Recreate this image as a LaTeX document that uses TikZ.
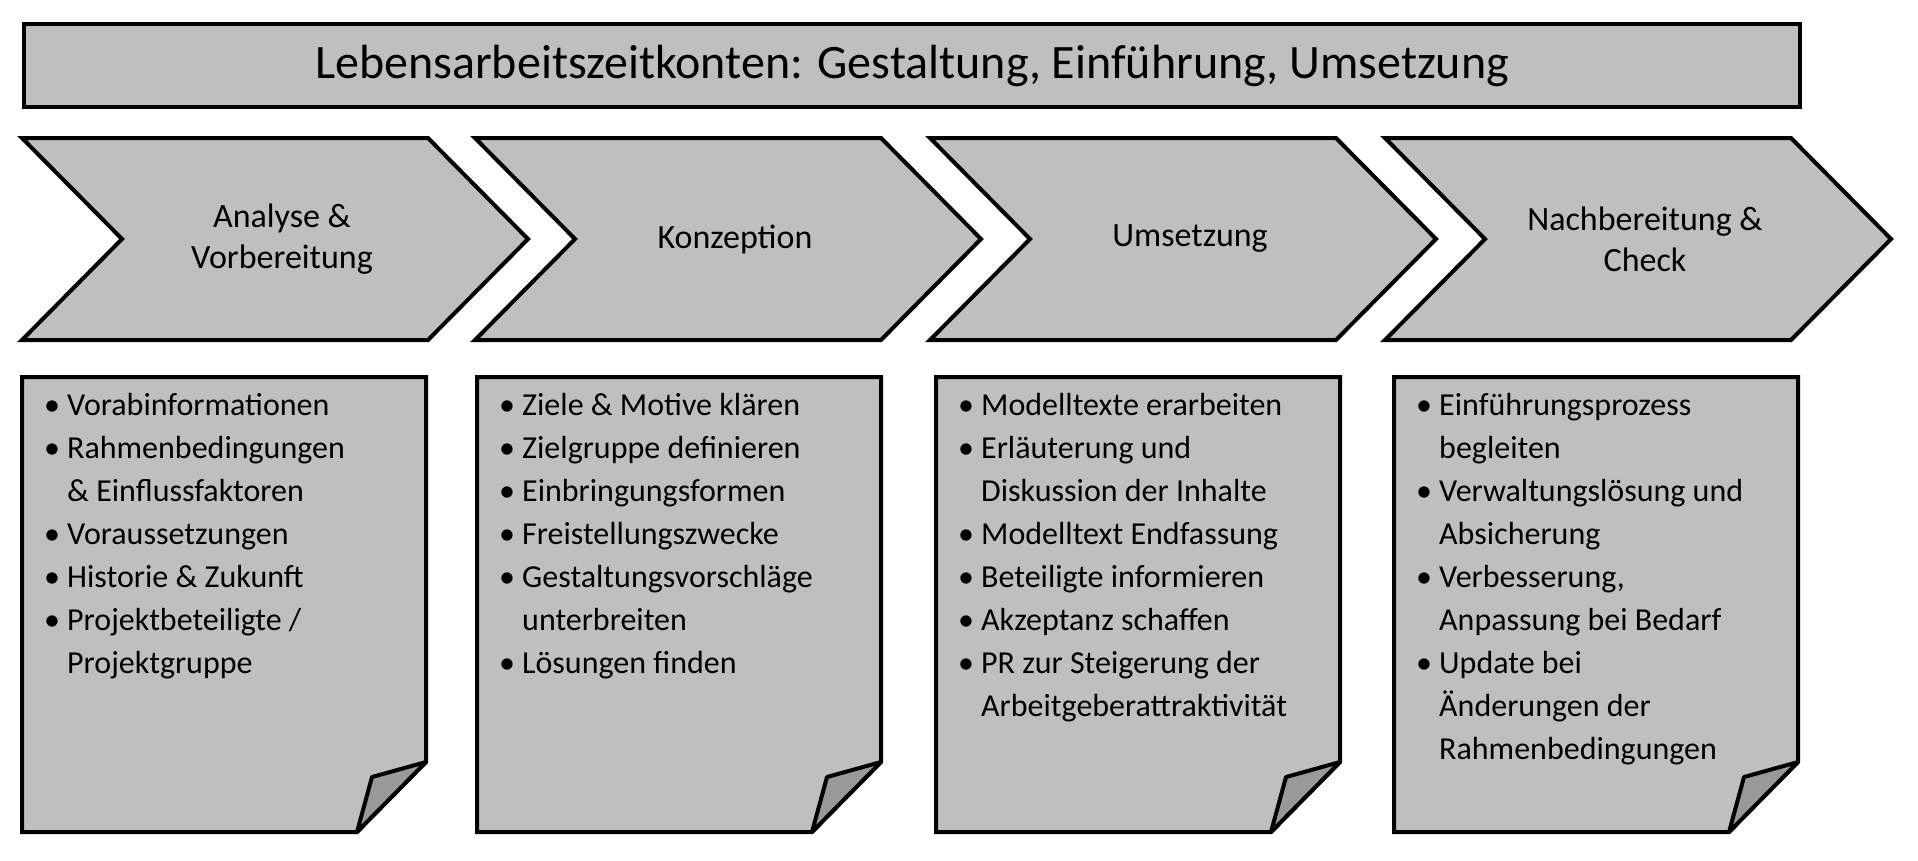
\documentclass[tikz,border=0pt]{standalone}
\usepackage{fontspec}
\setmainfont{Carlito}
\newcommand{\bi}{\makebox[23pt][l]{\textbullet}}
\newcommand{\bc}{\hspace*{23pt}}
\begin{document}
\begin{tikzpicture}[x=1pt,y=-1pt,
  shp/.style={draw=black,line width=4pt,fill=black!25,line join=miter},
  flap/.style={draw=black,line width=4pt,fill=black!40,line join=round},
  lbl/.style={font=\fontsize{34}{41}\selectfont,align=center},
  lst/.style={font=\fontsize{32}{43}\selectfont,align=left,anchor=north west,inner sep=0pt}]
\useasboundingbox (0,0) rectangle (1918,860);
\node[shp,minimum width=1776pt,minimum height=83pt,anchor=north west,inner sep=0pt,font=\fontsize{48}{56}\selectfont] (title) at (22,22) {Lebensarbeitszeitkonten: Gestaltung, Einführung, Umsetzung};
\foreach \i/\s/\t in {1/22/{Analyse \&\\Vorbereitung},2/475/{Konzeption},3/930/{Umsetzung},4/1385/{Nachbereitung \&\\Check}}{
  \draw[shp] (\s,138) -- (\s+406,138) -- (\s+506,239) -- (\s+406,340) -- (\s,340) -- (\s+100,239) -- cycle;
  \node[lbl] (c\i) at (\s+260,239) {\t};
}
\foreach \i/\l in {1/22,2/477,3/936,4/1394}{
  \draw[shp] (\l,377) -- (\l+404,377) -- (\l+404,762) -- (\l+335,832) -- (\l,832) -- cycle;
  \draw[flap] (\l+404,762) -- (\l+350,777) -- (\l+335,832) -- cycle;
  \coordinate (b\i) at (\l+22,393);
}
\node[lst] (l1) at (b1) {\bi Vorabinformationen\\\bi Rahmenbedingungen\\\bc\& Einflussfaktoren\\\bi Voraussetzungen\\\bi Historie \& Zukunft\\\bi Projektbeteiligte /\\\bc Projektgruppe};
\node[lst] (l2) at (b2) {\bi Ziele \& Motive klären\\\bi Zielgruppe definieren\\\bi Einbringungsformen\\\bi Freistellungszwecke\\\bi Gestaltungsvorschläge\\\bc unterbreiten\\\bi Lösungen finden};
\node[lst] (l3) at (b3) {\bi Modelltexte erarbeiten\\\bi Erläuterung und\\\bc Diskussion der Inhalte\\\bi Modelltext Endfassung\\\bi Beteiligte informieren\\\bi Akzeptanz schaffen\\\bi PR zur Steigerung der\\\bc Arbeitgeberattraktivität};
\node[lst] (l4) at (b4) {\bi Einführungsprozess\\\bc begleiten\\\bi Verwaltungslösung und\\\bc Absicherung\\\bi Verbesserung,\\\bc Anpassung bei Bedarf\\\bi Update bei\\\bc Änderungen der\\\bc Rahmenbedingungen};
\end{tikzpicture}
\end{document}
